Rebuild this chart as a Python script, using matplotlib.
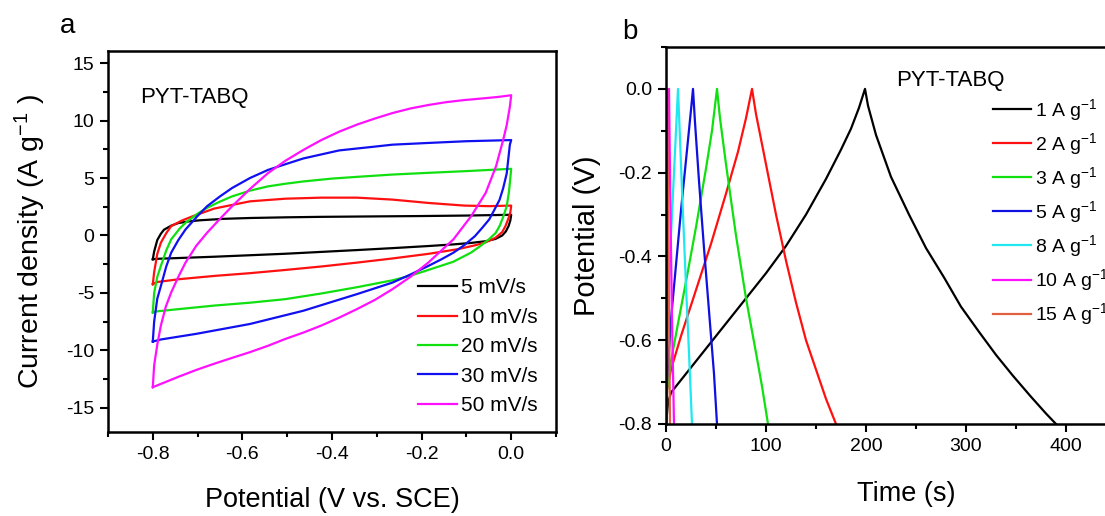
import numpy as np
import matplotlib
matplotlib.use("Agg")
import matplotlib.pyplot as plt
from matplotlib.ticker import MultipleLocator, FormatStrFormatter

plt.rcParams['font.family'] = ['Liberation Sans', 'DejaVu Sans']
plt.rcParams['mathtext.default'] = 'regular'
plt.rcParams['axes.unicode_minus'] = False

# ---- panel a: cyclic voltammetry (loop: forward then reverse scan) ----
cv_labels = ['5 mV/s', '10 mV/s', '20 mV/s', '30 mV/s', '50 mV/s']
cv_colors = ['#000000', '#ff1010', '#10e010', '#1010f0', '#ff10ff']

cv5_v = [-0.8, -0.797, -0.790, -0.782, -0.775, -0.759, -0.743, -0.72, -0.695, -0.64, -0.583, -0.5, -0.424,
         -0.3, -0.2, -0.105, 0.0,
         -0.002, -0.006, -0.012, -0.02, -0.035, -0.057, -0.09, -0.13, -0.185, -0.264, -0.344, -0.424,
         -0.504, -0.583, -0.663, -0.74, -0.79, -0.8]
cv5_i = [-2.07, -1.4, -0.4, 0.15, 0.5, 0.85, 1.08, 1.22, 1.32, 1.45, 1.52, 1.58, 1.62,
         1.66, 1.69, 1.73, 1.8,
         1.3, 0.8, 0.35, 0.0, -0.3, -0.5, -0.65, -0.78, -0.92, -1.1, -1.27, -1.43,
         -1.59, -1.72, -1.85, -1.96, -2.03, -2.07]

cv10_v = [-0.8, -0.797, -0.79, -0.782, -0.770, -0.759, -0.735, -0.711, -0.663, -0.583, -0.504, -0.424,
          -0.344, -0.265, -0.185, -0.105, -0.05, 0.0,
          -0.002, -0.006, -0.013, -0.02, -0.035, -0.057, -0.08, -0.12, -0.185, -0.265, -0.344, -0.424,
          -0.504, -0.583, -0.663, -0.74, -0.79, -0.8]
cv10_i = [-4.24, -3.2, -1.6, -0.63, 0.2, 0.81, 1.3, 1.67, 2.34, 2.97, 3.2, 3.29,
          3.29, 3.12, 2.83, 2.6, 2.55, 2.6,
          2.0, 1.5, 0.8, 0.3, -0.2, -0.6, -0.85, -1.2, -1.6, -2.0, -2.36, -2.7,
          -3.0, -3.28, -3.52, -3.8, -4.05, -4.24]

cv20_v = [-0.8, -0.797, -0.79, -0.782, -0.77, -0.759, -0.74, -0.727, -0.70, -0.679, -0.65, -0.623,
          -0.583, -0.543, -0.504, -0.464, -0.4, -0.344, -0.265, -0.185, -0.1, 0.0,
          -0.002, -0.005, -0.01, -0.018, -0.026, -0.035, -0.05, -0.07, -0.09, -0.13, -0.185, -0.225,
          -0.265, -0.344, -0.424, -0.504, -0.583, -0.663, -0.74, -0.79, -0.8]
cv20_i = [-6.69, -5.0, -3.6, -2.65, -1.3, -0.34, 0.6, 1.1, 1.9, 2.4, 2.95, 3.4,
          3.9, 4.27, 4.5, 4.7, 4.95, 5.1, 5.3, 5.45, 5.6, 5.8,
          5.0, 3.8, 2.54, 1.6, 0.81, 0.2, -0.34, -0.95, -1.5, -2.3, -3.0, -3.5,
          -3.9, -4.5, -5.05, -5.54, -5.85, -6.1, -6.4, -6.6, -6.69]

cv30_v = [-0.8, -0.797, -0.79, -0.782, -0.77, -0.759, -0.743, -0.727, -0.70, -0.679, -0.65, -0.623,
          -0.583, -0.543, -0.504, -0.464, -0.424, -0.384, -0.3, -0.265, -0.185, -0.1, 0.0,
          -0.003, -0.010, -0.018, -0.026, -0.038, -0.049, -0.065, -0.081, -0.105, -0.129, -0.157,
          -0.185, -0.225, -0.265, -0.344, -0.464, -0.583, -0.703, -0.782, -0.8]
cv30_i = [-9.23, -7.5, -5.5, -4.4, -2.7, -1.5, -0.4, 0.52, 1.7, 2.54, 3.4, 4.13,
          5.0, 5.7, 6.2, 6.7, 7.05, 7.4, 7.75, 7.9, 8.05, 8.2, 8.3,
          7.9, 5.4, 4.1, 3.1, 2.2, 1.4, 0.65, -0.06, -0.85, -1.5, -2.1,
          -2.65, -3.4, -4.1, -5.1, -6.55, -7.7, -8.56, -9.05, -9.23]

cv50_v = [-0.8, -0.797, -0.790, -0.782, -0.771, -0.759, -0.743, -0.727, -0.703, -0.679, -0.65, -0.623,
          -0.583, -0.543, -0.504, -0.464, -0.424, -0.384, -0.344, -0.304, -0.265, -0.225, -0.185,
          -0.145, -0.105, -0.065, -0.03, 0.0,
          -0.003, -0.010, -0.018, -0.034, -0.057, -0.089, -0.129, -0.185, -0.225, -0.265, -0.304,
          -0.344, -0.384, -0.424, -0.464, -0.504, -0.543, -0.583, -0.623, -0.663, -0.703, -0.743, -0.8]
cv50_i = [-13.2, -11.3, -9.5, -7.84, -6.2, -4.96, -3.6, -2.36, -0.9, 0.23, 1.45, 2.54,
          4.05, 5.42, 6.5, 7.44, 8.3, 9.03, 9.65, 10.18, 10.65, 11.05, 11.35,
          11.6, 11.78, 11.92, 12.05, 12.2,
          11.2, 9.6, 8.3, 6.0, 3.7, 1.7, -0.34, -2.36, -3.6, -4.67, -5.6,
          -6.4, -7.15, -7.84, -8.45, -9.0, -9.6, -10.15, -10.65, -11.16, -11.7, -12.3, -13.2]

cv_v = [cv5_v, cv10_v, cv20_v, cv30_v, cv50_v]
cv_i = [cv5_i, cv10_i, cv20_i, cv30_i, cv50_i]

# ---- panel b: galvanostatic charge/discharge ----
gcd_labels = ['1 A g$^{-1}$', '2 A g$^{-1}$', '3 A g$^{-1}$', '5 A g$^{-1}$',
              '8 A g$^{-1}$', '10 A g$^{-1}$', '15 A g$^{-1}$']
gcd_colors = ['#000000', '#ff1010', '#10e010', '#1010e0', '#20e8f0', '#ff10ff', '#e0603f']

gcd1_t = [0, 2, 5, 20, 40, 60, 80, 100, 120, 140, 160, 175, 185, 193, 199,
          202, 210, 225, 243, 260, 278, 295, 313, 330, 347, 365, 380, 390]
gcd1_v = [-0.8, -0.75, -0.725, -0.68, -0.62, -0.56, -0.5, -0.44, -0.375, -0.3, -0.215, -0.145, -0.095, -0.045, 0.0,
          -0.04, -0.11, -0.21, -0.3, -0.38, -0.45, -0.52, -0.58, -0.635, -0.685, -0.735, -0.775, -0.8]
gcd2_t = [0, 1, 5, 15, 30, 45, 60, 72, 80, 86, 90, 100, 110, 120, 130, 140, 150, 160, 170]
gcd2_v = [-0.8, -0.72, -0.67, -0.59, -0.48, -0.37, -0.25, -0.15, -0.07, 0.0,
          -0.06, -0.18, -0.3, -0.41, -0.51, -0.6, -0.67, -0.74, -0.8]
gcd3_t = [0, 1, 5, 12, 20, 30, 40, 46, 51, 54, 60, 70, 80, 90, 96, 102]
gcd3_v = [-0.8, -0.72, -0.65, -0.56, -0.46, -0.33, -0.19, -0.1, 0.0, -0.07, -0.18, -0.35, -0.5, -0.63, -0.71, -0.8]
gcd5_t = [0, 1, 5, 10, 15, 20, 25, 27, 29, 33, 38, 43, 48, 51]
gcd5_v = [-0.8, -0.7, -0.55, -0.42, -0.29, -0.17, -0.05, 0.0, -0.08, -0.22, -0.38, -0.53, -0.68, -0.8]
gcd8_t = [0, 0.5, 3, 6, 9, 12, 14, 17, 20, 23, 26]
gcd8_v = [-0.8, -0.62, -0.45, -0.3, -0.15, 0.0, -0.12, -0.3, -0.47, -0.63, -0.8]
gcd10_t = [0, 0.5, 1.5, 3, 4.5, 6, 8]
gcd10_v = [-0.8, -0.55, -0.3, 0.0, -0.3, -0.55, -0.8]
gcd15_t = [0, 0.3, 1, 2.5, 4]
gcd15_v = [-0.8, -0.5, 0.0, -0.4, -0.8]

gcd_t = [gcd1_t, gcd2_t, gcd3_t, gcd5_t, gcd8_t, gcd10_t, gcd15_t]
gcd_v = [gcd1_v, gcd2_v, gcd3_v, gcd5_v, gcd8_v, gcd10_v, gcd15_v]

W, H = 1105, 516
fig = plt.figure(figsize=(W / 100, H / 100), dpi=100)


def style_axes(ax):
    for s in ax.spines.values():
        s.set_linewidth(1.8)
    ax.tick_params(which='major', direction='out', length=6, width=1.5, labelsize=14, pad=4)
    ax.tick_params(which='minor', direction='out', length=3.5, width=1.5)
    ax.tick_params(which='both', top=False, right=False)


# panel a
ax1 = fig.add_axes([108 / W, 1 - 432 / H, 448 / W, 381 / H])
for v, i, c, lab in zip(cv_v, cv_i, cv_colors, cv_labels):
    ax1.plot(v, i, color=c, lw=1.6, label=lab)
ax1.set_xlim(-0.9, 0.1)
ax1.set_ylim(-17.1, 16.05)
ax1.xaxis.set_major_locator(MultipleLocator(0.2))
ax1.xaxis.set_minor_locator(MultipleLocator(0.1))
ax1.xaxis.set_major_formatter(FormatStrFormatter('%.1f'))
ax1.yaxis.set_major_locator(MultipleLocator(5))
ax1.yaxis.set_minor_locator(MultipleLocator(2.5))
style_axes(ax1)
ax1.set_xlabel('Potential (V vs. SCE)', fontsize=19.5)
ax1.set_ylabel('Current density (A g$^{-1}$ )', fontsize=20.5)
ax1.xaxis.set_label_coords(0.5, -0.145)
ax1.yaxis.set_label_coords(-0.135, 0.5)
ax1.text(-0.708, 12.0, 'PYT-TABQ', fontsize=16, ha='center', va='center')
ax1.legend(loc='upper left', bbox_to_anchor=(0.692, 0.403), bbox_transform=ax1.transAxes,
           frameon=False, fontsize=15, handlelength=1.85, handletextpad=0.2,
           labelspacing=0.5, borderpad=0, borderaxespad=0)

# panel b
ax2 = fig.add_axes([666 / W, 1 - 424 / H, 480 / W, 377 / H])
for t, v, c, lab in zip(gcd_t, gcd_v, gcd_colors, gcd_labels):
    ax2.plot(t, v, color=c, lw=1.6, label=lab)
ax2.set_xlim(0, 480)
ax2.set_ylim(-0.8, 0.1)
ax2.xaxis.set_major_locator(MultipleLocator(100))
ax2.xaxis.set_minor_locator(MultipleLocator(50))
ax2.yaxis.set_major_locator(MultipleLocator(0.2))
ax2.yaxis.set_minor_locator(MultipleLocator(0.1))
ax2.yaxis.set_major_formatter(FormatStrFormatter('%.1f'))
style_axes(ax2)
ax2.set_xlabel('Time (s)', fontsize=19.5)
ax2.set_ylabel('Potential (V)', fontsize=21)
ax2.xaxis.set_label_coords(0.5, -0.15)
ax2.yaxis.set_label_coords(-0.135, 0.5)
ax2.text(284, 0.02, 'PYT-TABQ', fontsize=16, ha='center', va='center')
ax2.legend(loc='upper left', bbox_to_anchor=(993 / W, 1 - 97 / H), bbox_transform=fig.transFigure,
           frameon=False, fontsize=14, handlelength=1.96, handletextpad=0.2,
           labelspacing=0.42, borderpad=0, borderaxespad=0)

fig.text(68 / W, 1 - 26 / H, 'a', fontsize=20, ha='center', va='center')
fig.text(630 / W, 1 - 32 / H, 'b', fontsize=20, ha='center', va='center')

fig.savefig('out.png', dpi=100)
